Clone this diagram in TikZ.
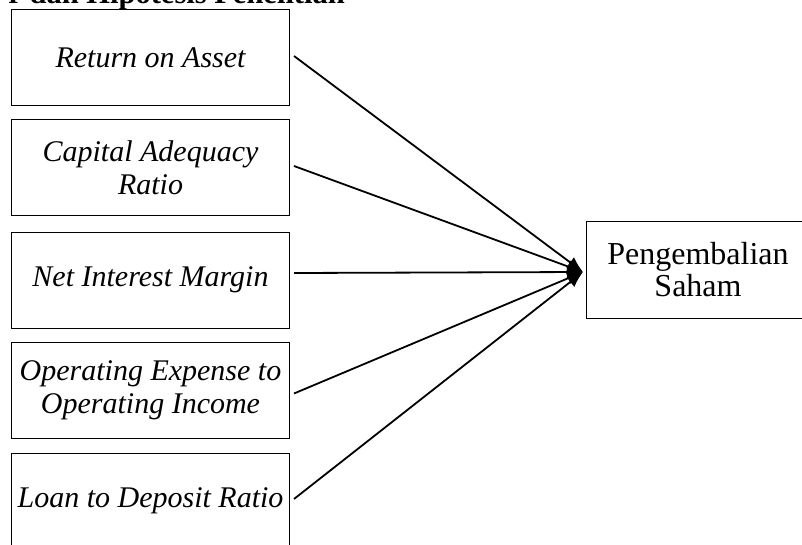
\documentclass[tikz,border=0pt]{standalone}
\usepackage{fontspec}
\setmainfont{Liberation Serif}
\usetikzlibrary{arrows.meta}
\begin{document}
\begin{tikzpicture}[x=1pt,y=-1pt,
  varbox/.style={draw=black,line width=1pt,minimum width=278pt,minimum height=96pt,inner sep=0pt,align=center,font=\fontsize{30}{33}\selectfont\itshape},
  depbox/.style={draw=black,line width=1pt,minimum width=224pt,minimum height=96pt,inner sep=0pt,align=center,font=\fontsize{32}{32}\selectfont},
  link/.style={line width=1.8pt,-{Latex[length=16pt,width=13pt]}}]
\useasboundingbox (0,0) rectangle (802,545);
\node[anchor=base east,inner sep=0pt,font=\fontsize{30.5}{33}\selectfont\bfseries] (head) at (345,4) {r dan Hipotesis Penelitian};
\node[varbox] (b1) at (150.5,58) {Return on Asset};
\node[varbox] (b2) at (150.5,168) {Capital Adequacy\\Ratio};
\node[varbox] (b3) at (150.5,280) {Net Interest Margin};
\node[varbox] (b4) at (150.5,390.5) {Operating Expense to\\Operating Income};
\node[varbox] (b5) at (150.5,501) {Loan to Deposit Ratio};
\node[depbox] (y) at (698,270) {Pengembalian\\Saham};
\coordinate (tip) at (583,272);
\draw[link] ([xshift=4pt,yshift=2pt]b1.east) -- (tip);
\draw[link] ([xshift=4pt,yshift=2pt]b2.east) -- (tip);
\draw[link] ([xshift=4pt,yshift=7pt]b3.east) -- (tip);
\draw[link] ([xshift=4pt,yshift=-3pt]b4.east) -- (tip);
\draw[link] ([xshift=4pt,yshift=2pt]b5.east) -- (tip);
\end{tikzpicture}
\end{document}
